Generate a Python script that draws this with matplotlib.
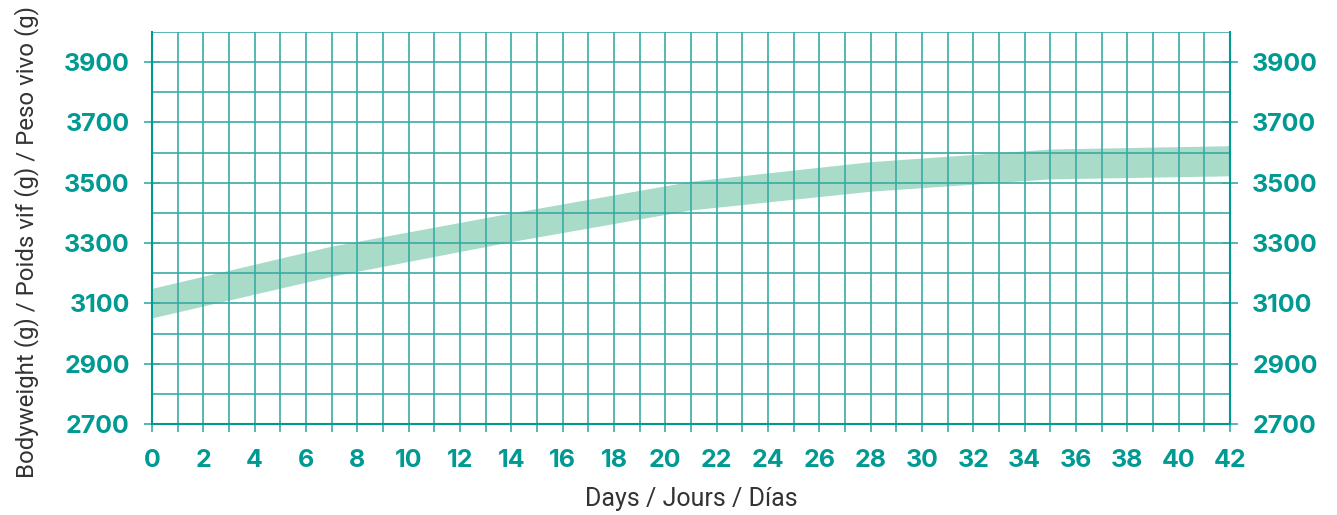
import matplotlib
matplotlib.use("Agg")
import matplotlib.pyplot as plt
import numpy as np
from matplotlib.ticker import MultipleLocator

# Data
days = [0, 7, 14, 21, 28, 35, 42]
upper = [3150, 3290, 3400, 3505, 3570, 3612, 3623]
lower = [3052, 3190, 3305, 3410, 3472, 3513, 3523]

x_ticks = list(range(0, 43, 2))
y_ticks = [2700, 2900, 3100, 3300, 3500, 3700, 3900]

xlabel = "Days / Jours / Días"
ylabel = "Bodyweight (g) / Poids vif (g) / Peso vivo (g)"

teal = "#009a93"
grid_c = "#3aaba5"
band_c = "#a8dcc8"

fig = plt.figure(figsize=(13.37, 5.15), dpi=100)
ax = fig.add_axes([152/1337, 91/515, (1230-152)/1337, (424-32)/515])

ax.fill_between(days, lower, upper, color=band_c, lw=0, zorder=1)

ax.set_xlim(0, 42)
ax.set_ylim(2700, 4000)

ax.xaxis.set_major_locator(MultipleLocator(2))
ax.xaxis.set_minor_locator(MultipleLocator(1))
ax.set_yticks(y_ticks)
ax.yaxis.set_minor_locator(MultipleLocator(100))

ax.grid(which="both", axis="both", color=grid_c, lw=1.2, zorder=1.5)
ax.set_axisbelow("line")

for s in ["left", "right", "bottom"]:
    ax.spines[s].set_color(teal)
    ax.spines[s].set_linewidth(1.5)
ax.spines["top"].set_visible(False)

tick_font = dict(family=["Inter", "DejaVu Sans"], weight="bold", size=18)
ax.set_xticks(x_ticks)
ax.set_xticklabels([str(v) for v in x_ticks], color=teal, **tick_font)
ax.set_yticklabels([str(v) for v in y_ticks], color=teal, **tick_font)

ax.tick_params(axis="x", which="both", direction="out", length=6, width=1.2,
               color=grid_c, pad=12)
ax.tick_params(axis="y", which="major", direction="inout", length=12, width=1.2,
               color=grid_c, pad=10, left=True, right=True,
               labelleft=True, labelright=True)
ax.tick_params(axis="y", which="minor", length=0)

lab_font = dict(family=["Roboto", "DejaVu Sans"], size=18, color="#333333")
ax.set_xlabel(xlabel, labelpad=11, **lab_font)
ax.set_ylabel(ylabel, family=["Roboto", "DejaVu Sans"], size=17.3, color="#333333")
ax.yaxis.set_label_coords(-0.105, 0.465)

fig.savefig("out.png", dpi=100)
